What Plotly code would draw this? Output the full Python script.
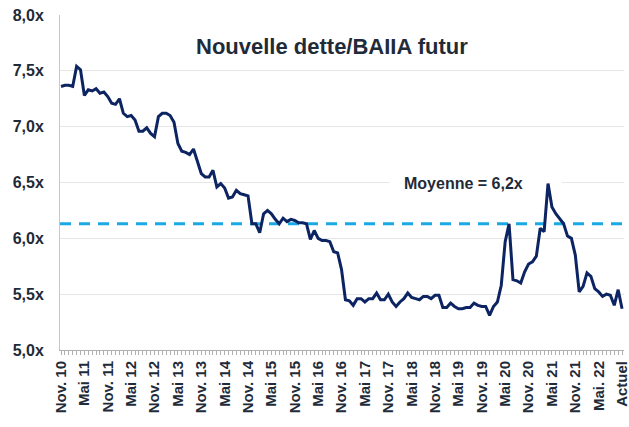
import plotly.graph_objects as go

# Monthly series, Nov. 2010 -> current (index 0..144)
ratio = [
    7.36, 7.37, 7.37, 7.36, 7.54, 7.51, 7.28, 7.33, 7.32, 7.34,
    7.30, 7.31, 7.27, 7.21, 7.20, 7.25, 7.12, 7.09, 7.10, 7.06,
    6.96, 6.96, 6.99, 6.94, 6.91, 7.09, 7.12, 7.12, 7.10, 7.04,
    6.85, 6.78, 6.77, 6.75, 6.80, 6.69, 6.58, 6.55, 6.55, 6.61,
    6.46, 6.49, 6.45, 6.36, 6.37, 6.43, 6.40, 6.39, 6.38, 6.13,
    6.13, 6.05, 6.22, 6.25, 6.22, 6.17, 6.13, 6.18, 6.15, 6.17,
    6.16, 6.14, 6.14, 6.13, 5.99, 6.07, 6.00, 5.98, 5.98, 5.97,
    5.88, 5.87, 5.72, 5.45, 5.44, 5.40, 5.46, 5.46, 5.43, 5.46,
    5.46, 5.51, 5.45, 5.45, 5.50, 5.43, 5.39, 5.43, 5.46, 5.51,
    5.47, 5.46, 5.45, 5.48, 5.48, 5.46, 5.49, 5.49, 5.38, 5.38,
    5.42, 5.39, 5.37, 5.37, 5.38, 5.38, 5.42, 5.40, 5.39, 5.39,
    5.31, 5.39, 5.43, 5.58, 5.97, 6.13, 5.63, 5.62, 5.60, 5.70,
    5.77, 5.79, 5.84, 6.09, 6.06, 6.49, 6.28, 6.22, 6.18, 6.13,
    6.02, 6.00, 5.85, 5.52, 5.57, 5.69, 5.66, 5.55, 5.52, 5.48,
    5.50, 5.49, 5.40, 5.54, 5.37,
]
months = list(range(len(ratio)))

x_tick_labels = [
    "Nov. 10", "Mai 11", "Nov. 11", "Mai 12", "Nov. 12", "Mai 13", "Nov. 13",
    "Mai 14", "Nov. 14", "Mai 15", "Nov. 15", "Mai 16", "Nov. 16", "Mai 17",
    "Nov. 17", "Mai 18", "Nov. 18", "Mai 19", "Nov. 19", "Mai 20", "Nov. 20",
    "Mai 21", "Nov. 21", "Mai. 22", "Actuel",
]
x_tick_positions = months[::6]

y_ticks = [5.0, 5.5, 6.0, 6.5, 7.0, 7.5, 8.0]
y_tick_labels = ["5,0x", "5,5x", "6,0x", "6,5x", "7,0x", "7,5x", "8,0x"]

mean_value = 6.13
mean_label = "Moyenne = 6,2x"
title_text = "Nouvelle dette/BAIIA futur"

TEXT = "#1f2b38"
NAVY = "#0c2461"
CYAN = "#1aa9e3"
FONT = "Liberation Sans, Arial, sans-serif"

fig = go.Figure()
fig.add_trace(go.Scatter(
    x=months, y=ratio, mode="lines",
    line=dict(color=NAVY, width=3),
    showlegend=False, hoverinfo="skip",
))

# mean dashed line
fig.add_shape(type="line", xref="paper", x0=0, x1=1, yref="y",
              y0=mean_value, y1=mean_value, layer="between",
              line=dict(color=CYAN, width=3, dash="11px,8px"))
# white boxes behind texts (hide gridlines)
fig.add_shape(type="rect", xref="paper", yref="paper",
              x0=0.2535, x1=0.725, y0=0.87, y1=1.04, layer="between",
              fillcolor="white", line=dict(width=0))
fig.add_shape(type="rect", xref="x", yref="y",
              x0=84.4, x1=128.6, y0=6.42, y1=6.6, layer="between",
              fillcolor="white", line=dict(width=0))

fig.add_annotation(text=title_text, xref="paper", yref="paper",
                   x=0.482, y=0.905, xanchor="center", yanchor="middle",
                   showarrow=False,
                   font=dict(family=FONT, size=22, color=TEXT, weight="bold"))
fig.add_annotation(text=mean_label, xref="x", yref="y",
                   x=103.2, y=6.49, xanchor="center", yanchor="middle",
                   showarrow=False,
                   font=dict(family=FONT, size=16, color=TEXT, weight="bold"))

fig.update_layout(
    width=629, height=427,
    margin=dict(l=60, r=5, t=15, b=77, autoexpand=False),
    paper_bgcolor="white", plot_bgcolor="white",
    font=dict(family=FONT, color=TEXT),
)
fig.update_xaxes(
    range=[-0.26, 144.5], automargin=False,
    tickmode="array", tickvals=x_tick_positions, ticktext=x_tick_labels,
    tickangle=-90, ticklabeloverflow="allow",
    tickfont=dict(family=FONT, size=15, color=TEXT, weight="bold"),
    showgrid=False, zeroline=False,
    showline=True, linecolor="#b0b0b0", linewidth=1,
    ticks="outside", ticklen=4, tickcolor="#b0b0b0", tickwidth=1,
    minor=dict(tickmode="array", tickvals=months, ticks="outside", ticklen=4,
               tickcolor="#b0b0b0", tickwidth=1, showgrid=False),
)
fig.update_yaxes(
    range=[5.0, 8.0], automargin=False,
    tickmode="array", tickvals=y_ticks, ticktext=y_tick_labels,
    tickfont=dict(family=FONT, size=16, color=TEXT, weight="bold"),
    showgrid=True, gridcolor="#e6e6e6", gridwidth=1,
    zeroline=False, showline=True, linecolor="#c8c8c8", linewidth=1,
    ticks="", ticklabelstandoff=12,
)

fig.write_html(
    "out.html",
    config={"displayModeBar": False},
    post_script="document.body.style.margin='0px';document.body.style.overflow='hidden';",
)
